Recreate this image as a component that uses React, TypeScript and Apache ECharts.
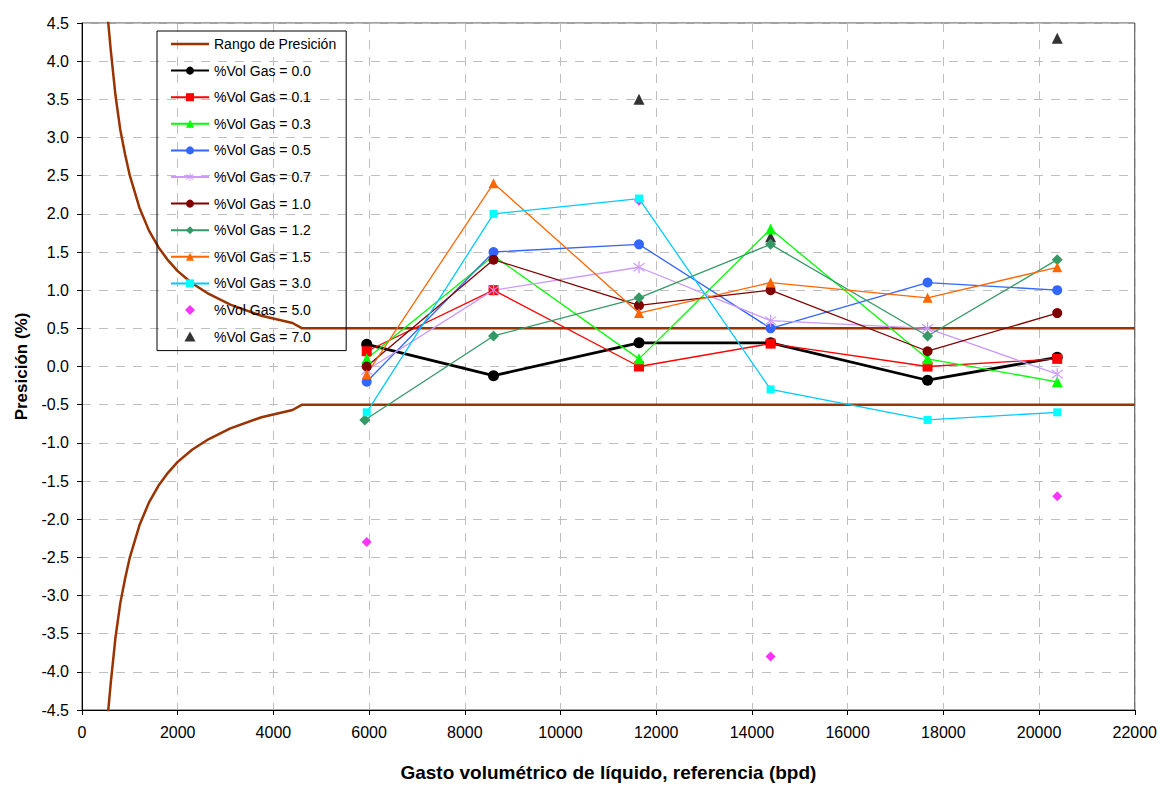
import React, { useEffect, useRef } from "react";
import * as echarts from "echarts";

// Reference flow (bpd) for the measured points
const FLOW = [5950, 8600, 11640, 14390, 17670, 20380];
const FLOW_12 = [5910, 8600, 11640, 14390, 17670, 20380];

// Precision (%) per gas volume fraction
const GAS_00 = [0.29, -0.12, 0.31, 0.31, -0.18, 0.12];
const GAS_01 = [0.2, 1.0, 0.0, 0.3, 0.0, 0.1];
const GAS_03 = [0.1, 1.45, 0.1, 1.8, 0.1, -0.2];
const GAS_05 = [-0.2, 1.5, 1.6, 0.5, 1.1, 1.0];
const GAS_07 = [-0.05, 1.0, 1.3, 0.6, 0.5, -0.1];
const GAS_10 = [0.0, 1.4, 0.8, 1.0, 0.2, 0.7];
const GAS_12 = [-0.7, 0.4, 0.9, 1.6, 0.4, 1.4];
const GAS_15 = [-0.1, 2.4, 0.7, 1.1, 0.9, 1.3];
const GAS_30 = [-0.6, 2.0, 2.2, -0.3, -0.7, -0.6];
const GAS_50_X = [5950, 11640, 14390, 20380];
const GAS_50 = [-2.3, 2.17, -3.8, -1.7];
const GAS_70_X = [11640, 14390, 20380];
const GAS_70 = [3.5, 1.7, 4.3];

// Precision range envelope
const RANGE_X = [520, 600, 700, 800, 900, 1000, 1200, 1400, 1600, 1800, 2000, 2300, 2650, 3100, 3750, 4400, 4600, 22000];
const RANGE_UP = [4.7, 4.15, 3.55, 3.1, 2.78, 2.5, 2.08, 1.78, 1.56, 1.39, 1.25, 1.09, 0.95, 0.81, 0.665, 0.57, 0.5, 0.5];
const RANGE_LO = [-4.7, -4.15, -3.55, -3.1, -2.78, -2.5, -2.08, -1.78, -1.56, -1.39, -1.25, -1.09, -0.95, -0.81, -0.665, -0.57, -0.5, -0.5];

const RANGE_NAME = "Rango de Presición";
const GAS_NAMES = [
  "%Vol Gas = 0.0",
  "%Vol Gas = 0.1",
  "%Vol Gas = 0.3",
  "%Vol Gas = 0.5",
  "%Vol Gas = 0.7",
  "%Vol Gas = 1.0",
  "%Vol Gas = 1.2",
  "%Vol Gas = 1.5",
  "%Vol Gas = 3.0",
  "%Vol Gas = 5.0",
  "%Vol Gas = 7.0",
];

const FONT = "'Liberation Sans', Arial, sans-serif";

const ASTERISK =
  "path://M-0.8,-10L0.8,-10L0.8,10L-0.8,10Z" +
  "M-7.6,-6.4L-6.4,-7.6L7.6,6.4L6.4,7.6Z" +
  "M7.6,-6.4L6.4,-7.6L-7.6,6.4L-6.4,7.6Z";
const LINE_ICON = "path://M0,0L38,0L38,2.5L0,2.5Z";
const DIAMOND_ICON = "path://M0,-5L5,0L0,5L-5,0Z";
const TRIANGLE_ICON = "path://M0,-5L5,4L-5,4Z";

const zip = (xs: number[], ys: number[]) => xs.map((x, i) => [x, ys[i]]);

function lineSeries(name: string, xs: number[], ys: number[], color: string, symbol: string, size: number, width = 1.3, lineColor?: string) {
  return {
    name,
    type: "line",
    data: zip(xs, ys),
    symbol,
    symbolSize: size,
    showSymbol: true,
    itemStyle: { color },
    lineStyle: { color: lineColor || color, width },
    emphasis: { disabled: true },
  };
}

export default function App() {
  const ref = useRef<HTMLDivElement>(null);
  useEffect(() => {
    if (!ref.current) return;
    const chart = echarts.init(ref.current, undefined, { renderer: "svg" });
    const rangeColor = "#993300";
    const legendData: any[] = [
      { name: RANGE_NAME, icon: LINE_ICON },
      ...GAS_NAMES.slice(0, 9),
      { name: GAS_NAMES[9], icon: DIAMOND_ICON, itemStyle: { color: "#ff00ff" } },
      { name: GAS_NAMES[10], icon: TRIANGLE_ICON },
    ];
    chart.setOption({
      animation: false,
      backgroundColor: "#ffffff",
      textStyle: { fontFamily: FONT, color: "#000" },
      grid: {
        left: 82,
        right: 25,
        top: 23,
        bottom: 77,
        show: true,
        borderColor: "#444",
        borderWidth: 1,
        backgroundColor: "#fff",
      },
      legend: {
        data: legendData,
        orient: "vertical",
        left: 157,
        top: 31,
        itemWidth: 38,
        itemHeight: 10,
        itemGap: 10.6,
        symbolKeepAspect: true,
        padding: [5, 10, 6, 13],
        borderColor: "#000",
        borderWidth: 1,
        textStyle: { fontFamily: FONT, fontSize: 14, color: "#000", lineHeight: 16 },
      },
      xAxis: {
        type: "value",
        min: 0,
        max: 22000,
        interval: 2000,
        name: "Gasto volumétrico de líquido, referencia (bpd)",
        nameLocation: "middle",
        nameGap: 53,
        nameTextStyle: { fontFamily: FONT, fontSize: 19, fontWeight: "bold", color: "#000" },
        axisLine: { show: true, onZero: false, lineStyle: { color: "#000", width: 1 } },
        axisTick: { show: true, inside: false, length: 5, lineStyle: { color: "#000" } },
        axisLabel: {
          fontFamily: FONT,
          fontSize: 16,
          color: "#000",
          margin: 14,
          formatter: (v: number) => String(v),
        },
        splitLine: { show: true, lineStyle: { color: "#bfbfbf", type: [9, 8], width: 1 } },
      },
      yAxis: {
        type: "value",
        min: -4.5,
        max: 4.5,
        interval: 0.5,
        name: "Presición (%)",
        nameLocation: "middle",
        nameGap: 52,
        nameTextStyle: { fontFamily: FONT, fontSize: 17, fontWeight: "bold", color: "#000" },
        axisLine: { show: true, onZero: false, lineStyle: { color: "#000", width: 1 } },
        axisTick: { show: true, inside: false, length: 5, lineStyle: { color: "#000" } },
        axisLabel: {
          fontFamily: FONT,
          fontSize: 16,
          color: "#000",
          margin: 13,
          formatter: (v: number) => v.toFixed(1),
        },
        splitLine: { show: true, lineStyle: { color: "#bfbfbf", type: [9, 8], width: 1 } },
      },
      series: [
        {
          name: RANGE_NAME,
          type: "line",
          data: zip(RANGE_X, RANGE_UP),
          symbol: "none",
          showSymbol: false,
          clip: true,
          itemStyle: { color: rangeColor },
          lineStyle: { color: rangeColor, width: 2.5 },
          emphasis: { disabled: true },
        },
        {
          name: RANGE_NAME,
          type: "line",
          data: zip(RANGE_X, RANGE_LO),
          symbol: "none",
          showSymbol: false,
          clip: true,
          itemStyle: { color: rangeColor },
          lineStyle: { color: rangeColor, width: 2.5 },
          emphasis: { disabled: true },
        },
        lineSeries(GAS_NAMES[0], FLOW, GAS_00, "#000000", "circle", 11, 2.8),
        lineSeries(GAS_NAMES[1], FLOW, GAS_01, "#ff0000", "rect", 10),
        lineSeries(GAS_NAMES[2], FLOW, GAS_03, "#00ff00", "triangle", 11),
        lineSeries(GAS_NAMES[3], FLOW, GAS_05, "#3366ff", "circle", 10),
        lineSeries(GAS_NAMES[4], FLOW, GAS_07, "#cc99ff", ASTERISK, 12),
        lineSeries(GAS_NAMES[5], FLOW, GAS_10, "#800000", "circle", 10),
        lineSeries(GAS_NAMES[6], FLOW_12, GAS_12, "#339966", "diamond", 11),
        lineSeries(GAS_NAMES[7], FLOW, GAS_15, "#ff6600", "triangle", 10),
        lineSeries(GAS_NAMES[8], FLOW, GAS_30, "#00ffff", "rect", 8, 1.3, "#00ccff"),
        {
          name: GAS_NAMES[9],
          type: "scatter",
          data: zip(GAS_50_X, GAS_50),
          symbol: "diamond",
          symbolSize: 10,
          itemStyle: { color: "#ff00ff" },
          emphasis: { disabled: true },
        },
        {
          name: GAS_NAMES[10],
          type: "scatter",
          data: zip(GAS_70_X, GAS_70),
          symbol: "triangle",
          symbolSize: 11,
          itemStyle: { color: "#000000" },
          emphasis: { disabled: true },
        },
      ],
    });
    return () => chart.dispose();
  }, []);
  return (
    <div
      ref={ref}
      style={{ position: "fixed", left: 0, top: 0, width: 1160, height: 787, background: "#fff" }}
    />
  );
}
